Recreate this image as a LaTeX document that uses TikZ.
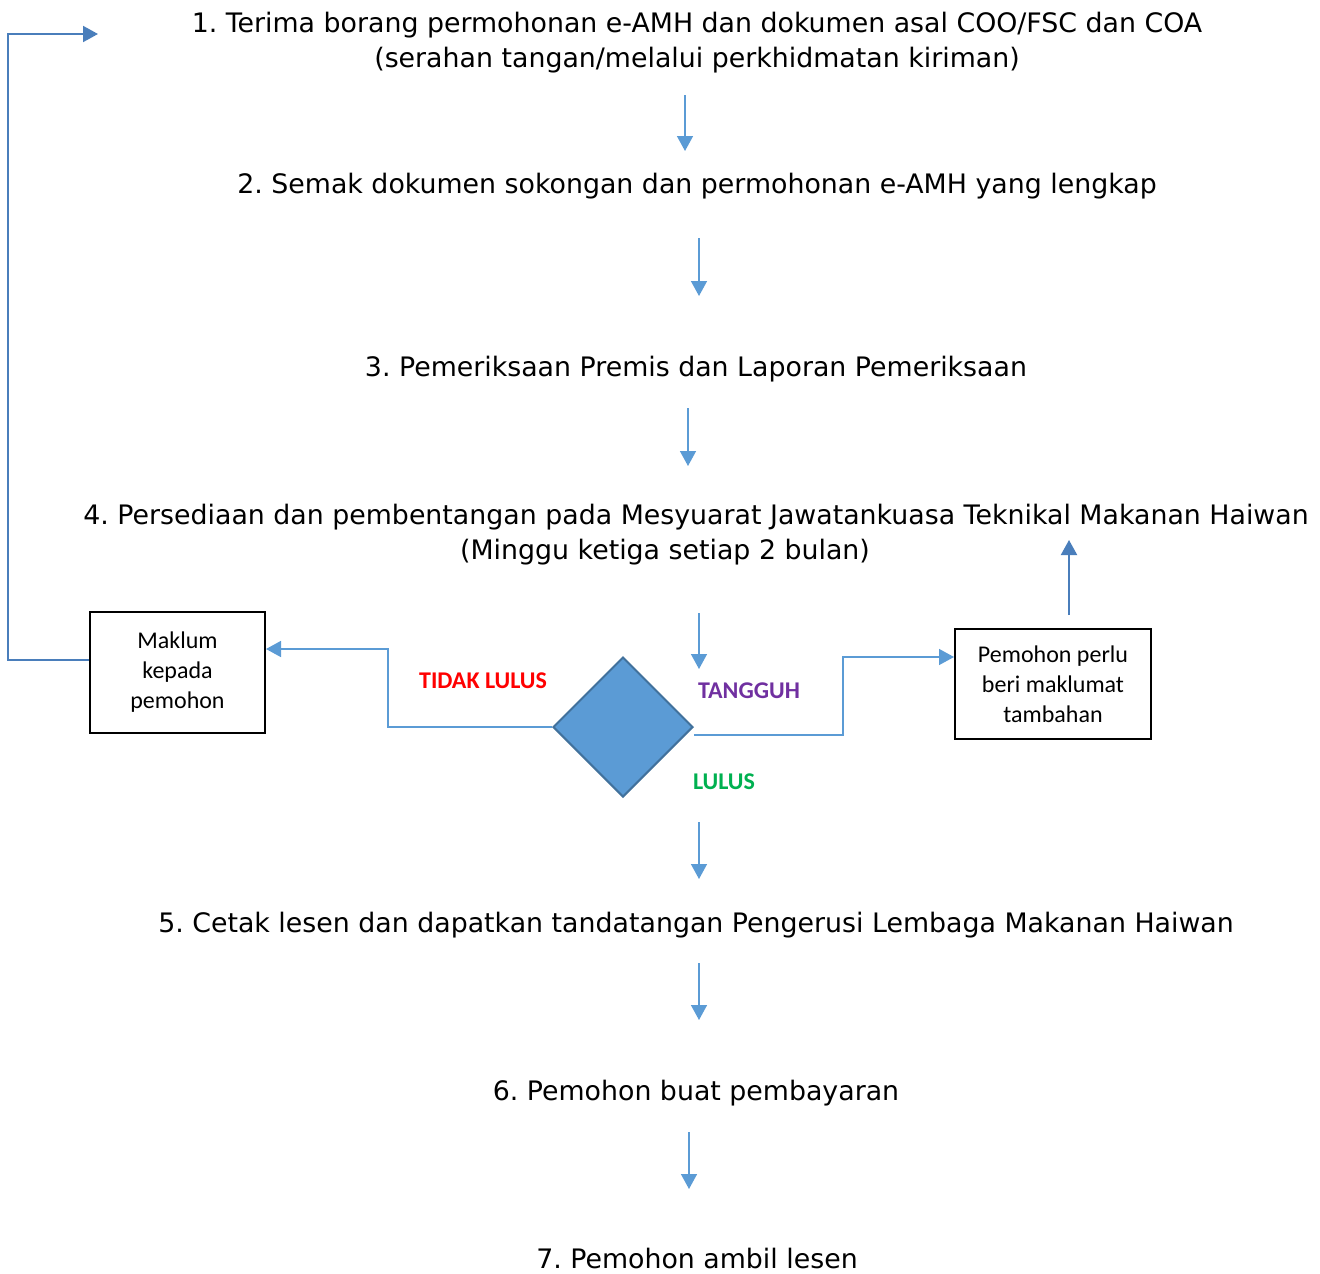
\documentclass[tikz,border=0pt]{standalone}
\usepackage{fontspec}
\setmainfont{DejaVu Sans}
\newfontfamily\calibri{Carlito}
\usepackage{tikz}
\usetikzlibrary{shapes.geometric}
\usetikzlibrary{arrows.meta}
\definecolor{flowblue}{HTML}{5B9BD5}
\definecolor{darkblue}{HTML}{4A7EBB}
\definecolor{edgeblue}{HTML}{41719C}
\definecolor{lulusgreen}{HTML}{00B050}
\definecolor{tangguhpurple}{HTML}{7030A0}
\frenchspacing
\tikzset{
	stage text/.style={font=\fontsize{26.8}{35}\selectfont,align=center,anchor=base,inner sep=0pt},
	box node/.style={draw,line width=2pt,font=\calibri\fontsize{24}{30}\selectfont,align=center,inner sep=0pt},
	decision/.style={diamond,draw=edgeblue,fill=flowblue,line width=2pt,minimum width=140pt,minimum height=140pt,inner sep=0pt},
	tag/.style={font=\calibri\bfseries\fontsize{24}{30}\selectfont,anchor=base,inner sep=0pt},
	flow/.style={->,draw=flowblue,line width=1.5pt},
	back/.style={->,draw=darkblue,line width=2pt}
}

\begin{document}
\begin{tikzpicture}[x=1pt,y=-1pt,>={Triangle[length=15pt,width=16pt]}]
	\useasboundingbox (0,0) rectangle (1320,1274);
	% base anchor sits on the last line
	\node [stage text] (1) at (697,67) {1. Terima borang permohonan e-AMH dan dokumen asal COO/FSC dan COA\\(serahan tangan/melalui perkhidmatan kiriman)};
	\node [stage text] (2) at (697,193) {2. Semak dokumen sokongan dan permohonan e-AMH yang lengkap};
	\node [stage text] (3) at (696,376) {3. Pemeriksaan Premis dan Laporan Pemeriksaan};
	\node [stage text] (4) at (696,559) {4. Persediaan dan pembentangan pada Mesyuarat Jawatankuasa Teknikal Makanan Haiwan\\(Minggu ketiga setiap 2 bulan)\hspace*{62pt}};
	\node [stage text] (5) at (696,932) {5. Cetak lesen dan dapatkan tandatangan Pengerusi Lembaga Makanan Haiwan};
	\node [stage text] (6) at (696,1100) {6. Pemohon buat pembayaran};
	\node [stage text] (7) at (697,1268) {7. Pemohon ambil lesen};

	\node [decision] (8) at (623,727) {};
	\node [box node,minimum width=175pt,minimum height=121pt] (9) at (177.5,672.5) {Maklum\\kepada\\pemohon};
	\node [box node,minimum width=196pt,minimum height=110pt] (10) at (1053,684) {Pemohon perlu\\beri maklumat\\tambahan};

	\node [tag,text=red] (11) at (483,688) {TIDAK LULUS};
	\node [tag,text=tangguhpurple] (12) at (749,698) {TANGGUH};
	\node [tag,text=lulusgreen] (13) at (724,789) {LULUS};

	% arrows down the main column
	\foreach \i/\x/\ya/\yb in {1/685/95/151, 2/699/238/296, 3/688/408/466, 4/699/613/669, 5/699/822/879, 6/699/963/1020, 7/689/1132/1189}{
		\coordinate (a\i) at (\x,\ya);
		\coordinate (b\i) at (\x,\yb);
		\draw [flow] (a\i) -- (b\i);
	}

	\draw [flow] (8.west) -- ++(-164,0) |- ([yshift=23.5pt]9.east);
	\coordinate (c1) at (98,34);
	\draw [back] ([yshift=12.5pt]9.west) -- ++(-81,0) |- (c1);
	\draw [flow] ([yshift=-8pt]8.east) -- (843,735) |- ([yshift=27pt]10.west);
	\coordinate (c2) at (1069,615);
	\coordinate (c3) at (1069,540);
	\draw [back] (c2) -- (c3);
\end{tikzpicture}
\end{document}
